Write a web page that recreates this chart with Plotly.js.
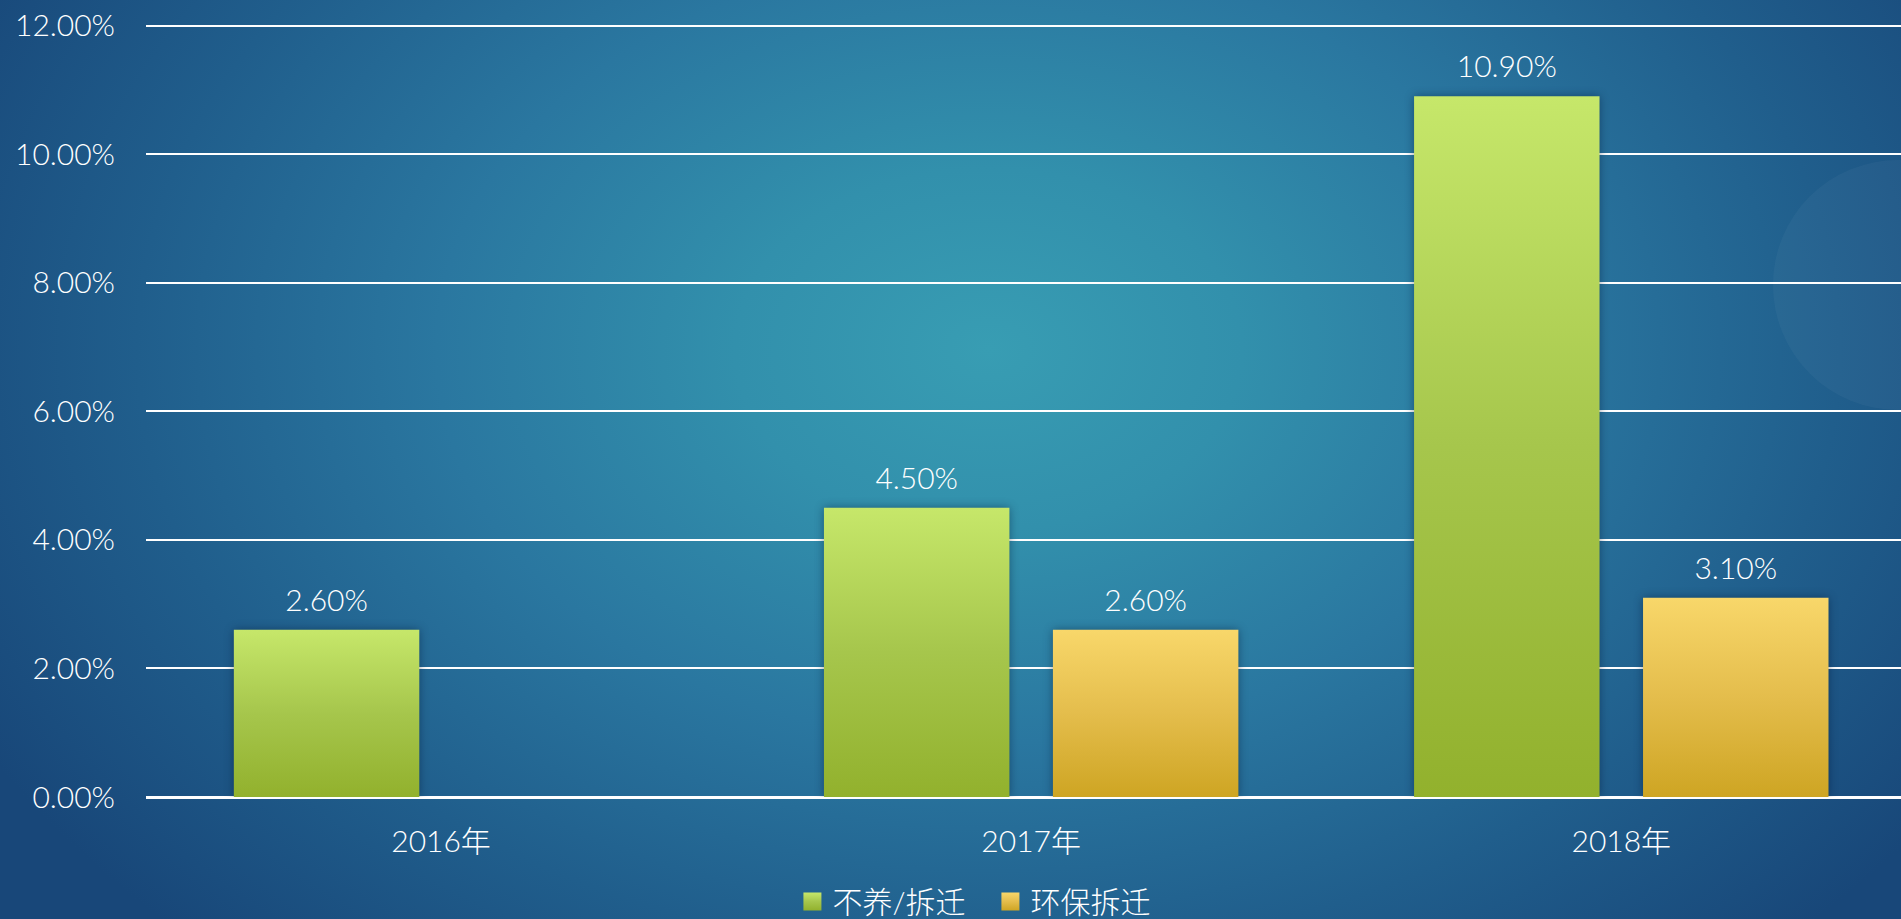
<!DOCTYPE html>
<html>
<head>
<meta charset="utf-8">
<script src="https://cdn.plot.ly/plotly-3.0.1.min.js"></script>
<style>
  html, body { margin: 0; padding: 0; width: 1901px; height: 919px; overflow: hidden; }
  body {
    background: radial-gradient(ellipse 1150px 820px at 52% 38%, #389db3 0%, #3290ac 22%, #2a77a0 48%, #205e8c 74%, #184779 100%);
    position: relative;
  }
  #deco {
    position: absolute; left: 1773px; top: 160px; width: 250px; height: 250px;
    border-radius: 50%; background: rgba(255,255,255,0.035);
  }
  #chart { position: absolute; left: 0; top: 0; width: 1901px; height: 919px; }
</style>
</head>
<body>
<div id="deco"></div>
<div id="chart"></div>
<script>
const categories = ['2016年', '2017年', '2018年'];
const seriesNames = ['不养/拆迁', '环保拆迁'];
const buyang = [0.026, 0.045, 0.109];
const huanbao = [null, 0.026, 0.031];
const yTicks = [0, 0.02, 0.04, 0.06, 0.08, 0.10, 0.12];

const FONT = "Lato, 'Noto Sans CJK SC', sans-serif";
const FS = 30;

const traces = [
  {
    type: 'bar', name: seriesNames[0], x: categories, y: buyang,
    marker: { color: '#b0d04c' },
    text: buyang.map(v => v == null ? '' : (v * 100).toFixed(2) + '%'),
    textposition: 'outside', cliponaxis: false,
    textfont: { color: '#ffffff', size: FS, family: FONT, weight: 300 },
    hoverinfo: 'skip'
  },
  {
    type: 'bar', name: seriesNames[1], x: categories, y: huanbao,
    marker: { color: '#e6c24a' },
    text: huanbao.map(v => v == null ? '' : (v * 100).toFixed(2) + '%'),
    textposition: 'outside', cliponaxis: false,
    textfont: { color: '#ffffff', size: FS, family: FONT, weight: 300 },
    hoverinfo: 'skip'
  }
];

const layout = {
  width: 1901, height: 919, autosize: false,
  paper_bgcolor: 'rgba(0,0,0,0)', plot_bgcolor: 'rgba(0,0,0,0)',
  margin: { l: 146, r: 0, t: 16, b: 122 },
  barmode: 'group', bargap: 0.224, bargroupgap: 0.19,
  font: { family: FONT, color: '#ffffff', size: FS, weight: 300 },
  showlegend: true,
  legend: {
    orientation: 'h', xref: 'container', yref: 'container',
    x: 0.521, xanchor: 'center', y: 0.019, yanchor: 'middle',
    entrywidth: 153, entrywidthmode: 'pixels',
    font: { size: FS, color: '#ffffff', family: FONT, weight: 300 },
    bgcolor: 'rgba(0,0,0,0)', itemclick: false, itemdoubleclick: false
  },
  xaxis: {
    type: 'category', range: [-0.5, 2.474],
    showgrid: false, showline: false, zeroline: false,
    ticks: '', ticklabelstandoff: 24,
    tickfont: { size: FS, color: '#ffffff', family: FONT, weight: 300 }
  },
  yaxis: {
    range: [0, 0.1215], tickvals: yTicks, tickformat: '.2%',
    showgrid: true, gridcolor: '#ffffff', gridwidth: 2,
    zeroline: true, zerolinecolor: '#ffffff', zerolinewidth: 3,
    showline: false, ticks: '', ticklabelstandoff: 30,
    tickfont: { size: FS, color: '#ffffff', family: FONT, weight: 300 }
  }
};

function decorate(gd) {
  const svg = gd.querySelector('svg.main-svg');
  if (!svg) return;
  const NS = 'http://www.w3.org/2000/svg';
  let defs = svg.querySelector('defs#customdefs');
  if (!defs) {
    defs = document.createElementNS(NS, 'defs');
    defs.setAttribute('id', 'customdefs');
    const grads = [
      ['gGreen', '#c6e76a', '#a6c64c', '#92b12d'],
      ['gGold', '#f8d76a', '#e4bd4c', '#cea523']
    ];
    grads.forEach(([id, c0, c1, c2]) => {
      const lg = document.createElementNS(NS, 'linearGradient');
      lg.setAttribute('id', id);
      lg.setAttribute('x1', '0'); lg.setAttribute('y1', '0');
      lg.setAttribute('x2', '0'); lg.setAttribute('y2', '1');
      [[0, c0], [0.5, c1], [1, c2]].forEach(([o, c]) => {
        const s = document.createElementNS(NS, 'stop');
        s.setAttribute('offset', o); s.setAttribute('stop-color', c);
        lg.appendChild(s);
      });
      defs.appendChild(lg);
    });
    svg.insertBefore(defs, svg.firstChild);
  }
  const ids = ['gGreen', 'gGold'];
  gd.querySelectorAll('.barlayer .trace').forEach((tr, i) => {
    tr.querySelectorAll('.point path').forEach(p => {
      p.style.fill = 'url(#' + ids[i] + ')';
      p.style.filter = 'drop-shadow(0px 0px 5px rgba(0,20,50,0.45))';
    });
    tr.querySelectorAll('.point text').forEach(t => {
      if (!t.dataset.shifted) {
        const tf = t.getAttribute('transform') || '';
        t.setAttribute('transform', 'translate(0,-10) ' + tf);
        t.dataset.shifted = '1';
      }
    });
  });
  gd.querySelectorAll('.legend .traces').forEach((tr, i) => {
    tr.querySelectorAll('.legendpoints path').forEach(p => {
      p.style.fill = 'url(#' + ids[i] + ')';
      p.setAttribute('d', 'M9,9H-9V-9H9Z');
    });
  });
}

Plotly.newPlot('chart', traces, layout, { staticPlot: true, displayModeBar: false }).then(gd => {
  decorate(gd);
  gd.on('plotly_afterplot', () => decorate(gd));
});
</script>
</body>
</html>
